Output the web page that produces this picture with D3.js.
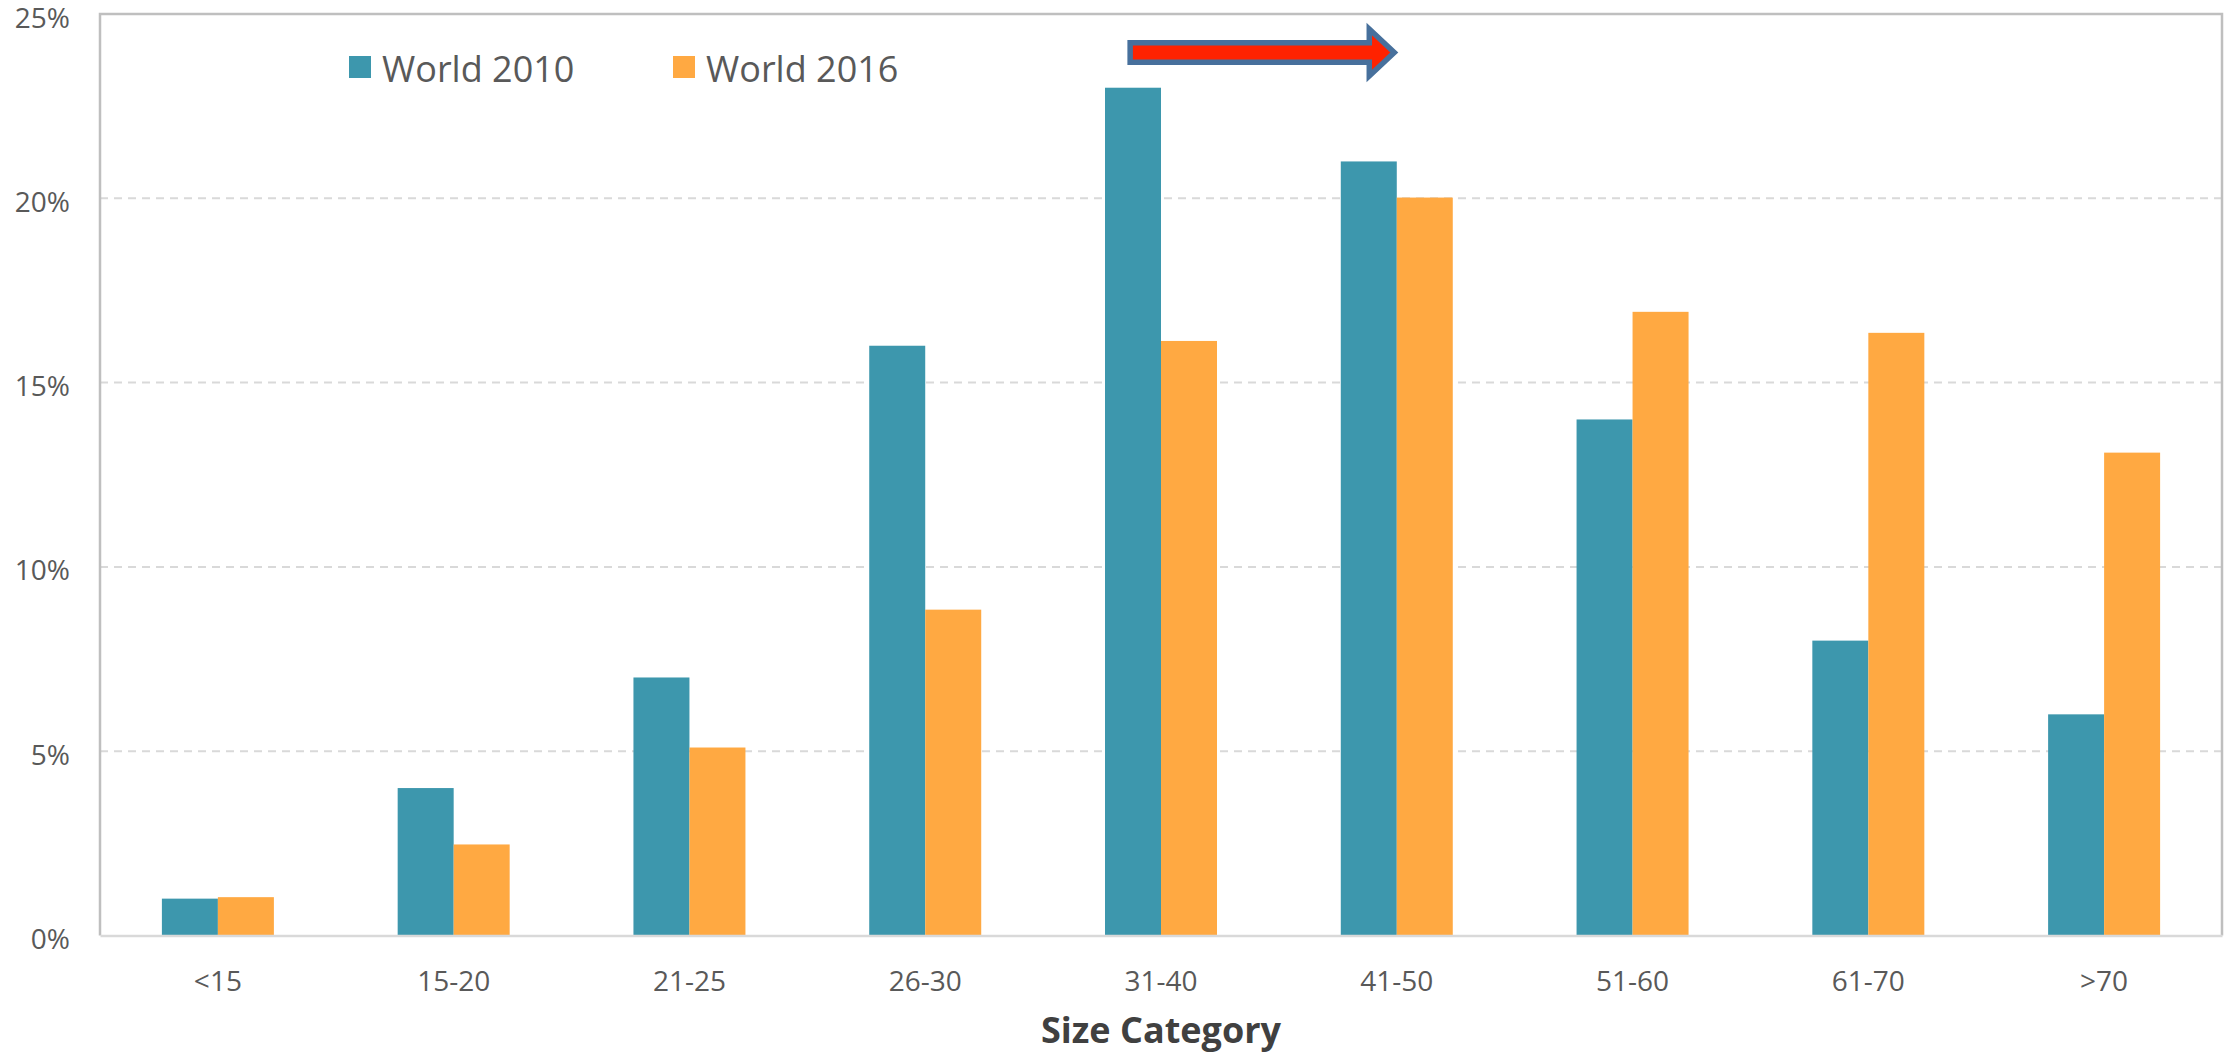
<!DOCTYPE html>
<html>
<head>
<meta charset="utf-8">
<script src="https://cdn.jsdelivr.net/npm/d3@7"></script>
<style>
  html, body { margin: 0; padding: 0; background: #fff; }
  svg { display: block; font-family: "Open Sans", "Liberation Sans", sans-serif; }
</style>
</head>
<body>
<svg id="chart" width="2236" height="1054"></svg>
<script>
// Size categories along the x axis
const categories = ["<15", "15-20", "21-25", "26-30", "31-40", "41-50", "51-60", "61-70", ">70"];

// Share of each size category (percent)
const world2010 = [1.0, 4.0, 7.0, 16.0, 23.0, 21.0, 14.0, 8.0, 6.0];
const world2016 = [1.04, 2.47, 5.1, 8.84, 16.13, 20.02, 16.92, 16.35, 13.1];

const seriesNames = ["World 2010", "World 2016"];
const seriesColors = ["#3D97AD", "#FFA942"];

// Y axis tick values (percent)
const yTicks = [0, 5, 10, 15, 20, 25];

const xAxisTitle = "Size Category";

const svg = d3.select("#chart");
const W = 2236, H = 1054;
const plot = { left: 100, right: 2222, top: 14, bottom: 935.5 };

const x = d3.scaleBand()
  .domain(categories)
  .range([plot.left, plot.right])
  .padding(0);

const y = d3.scaleLinear()
  .domain([0, 25])
  .range([plot.bottom, plot.top]);

const barW = x.step() * 0.2375;
const center = c => x(c) + x.bandwidth() / 2;

// Dashed horizontal gridlines
svg.append("g")
  .selectAll("line")
  .data(yTicks.filter(t => t > 0 && t < 25))
  .join("line")
  .attr("x1", plot.left)
  .attr("x2", plot.right)
  .attr("y1", d => y(d))
  .attr("y2", d => y(d))
  .attr("stroke", "#D9D9D9")
  .attr("stroke-width", 2)
  .attr("stroke-dasharray", "8,6");

// Y axis labels
const yAxis = d3.axisLeft(y)
  .tickValues(yTicks)
  .tickFormat(d => d + "%")
  .tickSize(0)
  .tickPadding(30);

const gy = svg.append("g")
  .attr("transform", `translate(${plot.left},0)`)
  .call(yAxis);
gy.select(".domain").remove();
gy.selectAll("text")
  .attr("font-family", "'Open Sans', sans-serif")
  .attr("font-size", 28)
  .attr("fill", "#595959")
  .attr("dy", null)
  .attr("dominant-baseline", "auto")
  .attr("y", 13);

// Bars
const rows = categories.map((c, i) => ({ c, values: [world2010[i], world2016[i]] }));

const groups = svg.append("g")
  .selectAll("g")
  .data(rows)
  .join("g");

groups.selectAll("rect")
  .data(d => d.values.map((v, k) => ({ c: d.c, v, k })))
  .join("rect")
  .attr("x", d => center(d.c) - barW + d.k * barW)
  .attr("width", barW)
  .attr("y", d => y(d.v))
  .attr("height", d => y(0) - y(d.v))
  .attr("fill", d => seriesColors[d.k]);

// Plot frame
svg.append("path")
  .attr("d", `M${plot.left},${plot.bottom} V${plot.top} H${plot.right} V${plot.bottom}`)
  .attr("fill", "none")
  .attr("stroke", "#BFBFBF")
  .attr("stroke-width", 2.5);

// X axis line and labels
const xAxis = d3.axisBottom(x).tickSize(0).tickPadding(0);
const gx = svg.append("g")
  .attr("transform", `translate(0,${plot.bottom})`)
  .call(xAxis);
gx.select(".domain")
  .attr("stroke", "#D9D9D9")
  .attr("stroke-width", 2.5);
gx.selectAll("text")
  .attr("font-family", "'Open Sans', sans-serif")
  .attr("font-size", 28)
  .attr("fill", "#595959")
  .attr("dy", null)
  .attr("y", 55);

// X axis title
svg.append("text")
  .attr("x", (plot.left + plot.right) / 2)
  .attr("y", 1043)
  .attr("text-anchor", "middle")
  .attr("font-size", 36)
  .attr("font-weight", "bold")
  .attr("fill", "#404040")
  .text(xAxisTitle);

// Legend
const legendX = [349, 673];
const legend = svg.append("g");
seriesNames.forEach((name, k) => {
  legend.append("rect")
    .attr("x", legendX[k])
    .attr("y", 56)
    .attr("width", 22)
    .attr("height", 22)
    .attr("fill", seriesColors[k]);
  legend.append("text")
    .attr("x", legendX[k] + 33)
    .attr("y", 82)
    .attr("font-size", 36)
    .attr("fill", "#595959")
    .text(name);
});

// Shift arrow from the 31-40 group toward the 41-50 group
const ax0 = center("31-40") - 0.6 * barW + 2.75;
const ax1 = center("41-50") - 2.5;
const ay = 52.5;
const shaftHalf = 9.75;
const headHalf = 23.5;
const headLen = 25;
const arrowPath = [
  [ax0, ay - shaftHalf],
  [ax1 - headLen, ay - shaftHalf],
  [ax1 - headLen, ay - headHalf],
  [ax1, ay],
  [ax1 - headLen, ay + headHalf],
  [ax1 - headLen, ay + shaftHalf],
  [ax0, ay + shaftHalf]
];
svg.append("path")
  .attr("d", d3.line()(arrowPath) + "Z")
  .attr("fill", "#FF2200")
  .attr("stroke", "#47709C")
  .attr("stroke-width", 5.5)
  .attr("stroke-linejoin", "miter");
</script>
</body>
</html>
